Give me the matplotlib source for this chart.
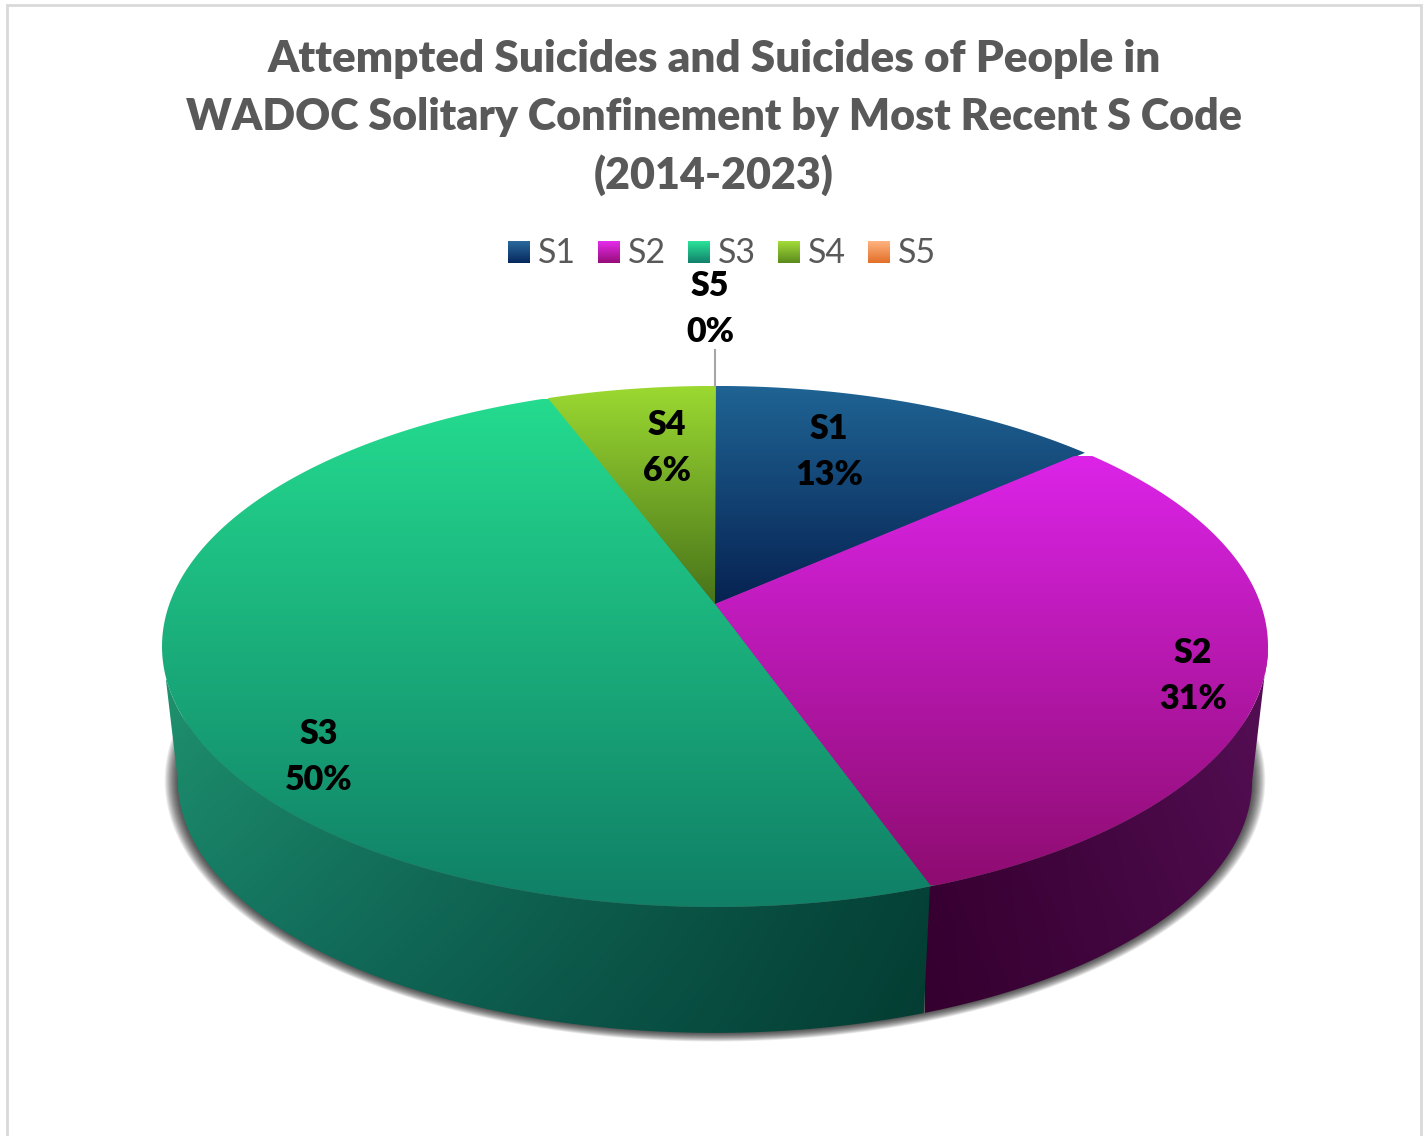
# 3D-Kreisdiagramm mit Verlauf nachbauen
import matplotlib
matplotlib.use('Agg')
import matplotlib.pyplot as plt
import numpy as np
from matplotlib.patches import Polygon, Rectangle

plt.rcParams['font.family'] = ['Lato', 'DejaVu Sans']

# Daten
title_lines = ['Attempted Suicides and Suicides of People in',
               'WADOC Solitary Confinement by Most Recent S Code',
               '(2014-2023)']
categories = ['S1', 'S2', 'S3', 'S4', 'S5']
shares = [13.49, 31.1, 49.7, 5.71, 0.0]

# Farben: Verlauf oben, Verlauf unten
top_light = ['#1f6494', '#dc24e8', '#24db8f', '#9bd931', '#ffb380']
top_dark = ['#062252', '#8e0c70', '#107f66', '#48731a', '#e0702a']
legend_light = ['#2a6a9e', '#e62cec', '#2ae49a', '#a4dc3a', '#ffb380']
legend_dark = ['#06285c', '#960c78', '#12806a', '#5a8a1c', '#e26f28']

# Beschriftung (Pixelpositionen)
label_xy = [(829, 452), (1193, 676), (319, 757), (667, 448), (710, 309)]
legend_x = [508, 598, 688, 778, 868]
title_y = [59, 117, 175]
title_size = [31.7, 31, 31]

# Perspektive der Deckflaeche und der Unterkante
CX = 715
TOP = dict(y0=604, a=253.6, b=545.6)
BOT = dict(y0=739, a=246, b=530)
K = 0.163


def ring(t, r):
    x = np.sin(t)
    y = np.cos(t)
    d = 1 + K * y
    return CX + r['b'] * x / d, r['y0'] - r['a'] * y / d


def rgb(c):
    return np.array(matplotlib.colors.to_rgb(c))


def gradient(ax, clip, x0, x1, y0, y1, corners):
    # corners: oben links, oben rechts, unten links, unten rechts
    u, v = np.meshgrid(np.linspace(0, 1, 128), np.linspace(0, 1, 256))
    u = u[..., None]
    v = v[..., None]
    arr = ((1 - v) * ((1 - u) * rgb(corners[0]) + u * rgb(corners[1]))
           + v * ((1 - u) * rgb(corners[2]) + u * rgb(corners[3])))
    im = ax.imshow(arr, extent=(x0, x1, y1, y0), aspect='auto',
                   interpolation='bilinear', zorder=clip.get_zorder())
    im.set_clip_path(clip)
    return im


fig = plt.figure(figsize=(14.28, 11.36), dpi=100)
ax = fig.add_axes([0, 0, 1, 1])
ax.set_axis_off()

# Rahmen
ax.add_patch(Rectangle((7, 5), 1414, 1200, fc='white', ec='#d9d9d9', lw=2, zorder=0))

# Schatten unter dem Kreis
t_all = np.linspace(0, 2 * np.pi, 400)
for grow in range(1, 14):
    bx, by = ring(t_all, BOT)
    bx = CX + (bx - CX) * (1 + grow / 534)
    by = 775 + (by - 775) * (1 + grow / 290 * 0.75)
    ax.add_patch(Polygon(np.c_[bx, by], fc='black', ec='none', alpha=0.075, zorder=1))

# Winkel aus den Anteilen
edges = np.cumsum([0] + shares) / 100 * 2 * np.pi

# Seitenwand: nur die vordere Haelfte zwischen den aeusseren Punkten
t_right = np.arccos(-K)
t_left = 2 * np.pi - t_right

t = np.linspace(t_right, edges[2] + 0.01, 200)
tx, ty = ring(t, TOP)
bx, by = ring(t, BOT)
wall_s2 = Polygon(np.r_[np.c_[tx, ty], np.c_[bx, by][::-1]], fc='none', ec='none', zorder=2)
ax.add_patch(wall_s2)
gradient(ax, wall_s2, 925, 1270, 650, 1033, ['#3c0038', '#560f56', '#34002e', '#480a46'])

t = np.linspace(edges[2], t_left, 200)
tx, ty = ring(t, TOP)
bx, by = ring(t, BOT)
wall_s3 = Polygon(np.r_[np.c_[tx, ty], np.c_[bx, by][::-1]], fc='none', ec='none', zorder=2.5)
ax.add_patch(wall_s3)
gradient(ax, wall_s3, 160, 935, 680, 1033, ['#1f926e', '#06483c', '#127060', '#043c32'])

# Deckflaeche
face_y = [(386, 604), (456, 885), (399, 907), (386, 604)]
for i in range(4):
    t = np.linspace(edges[i] - 0.002, edges[i + 1] + 0.002, 300)
    tx, ty = ring(t, TOP)
    face = Polygon(np.r_[[[CX, TOP['y0']]], np.c_[tx, ty]], fc='none', ec='none', zorder=3)
    ax.add_patch(face)
    y0, y1 = face_y[i]
    gradient(ax, face, 150, 1280, y0, y1,
             [top_light[i], top_light[i], top_dark[i], top_dark[i]])

# Datenbeschriftung
for i, name in enumerate(categories):
    ax.text(label_xy[i][0], label_xy[i][1], f'{name}\n{shares[i]:.0f}%', ha='center', va='center',
            fontsize=24.5, fontweight=800, color='black', linespacing=1.52, zorder=6)

# Hilfslinie zu S5
ax.plot([714.5, 714.5], [350, 386], color='#a6a6a6', lw=1.5, zorder=4)

# Titel
for line, y, size in zip(title_lines, title_y, title_size):
    ax.text(714, y, line, ha='center', va='center', fontsize=size, fontweight=800,
            color='#595959', zorder=6)

# Legende
for i, name in enumerate(categories):
    box = Rectangle((legend_x[i], 241), 22, 22, fc='none', ec='none', zorder=5)
    ax.add_patch(box)
    gradient(ax, box, legend_x[i], legend_x[i] + 22, 241, 263,
             [legend_light[i], legend_light[i], legend_dark[i], legend_dark[i]])
    ax.text(legend_x[i] + 30, 253, name, ha='left', va='center', fontsize=24.5,
            color='#595959', zorder=6)

ax.set_xlim(0, 1428)
ax.set_ylim(1136, 0)
fig.savefig('out.png', dpi=100)
